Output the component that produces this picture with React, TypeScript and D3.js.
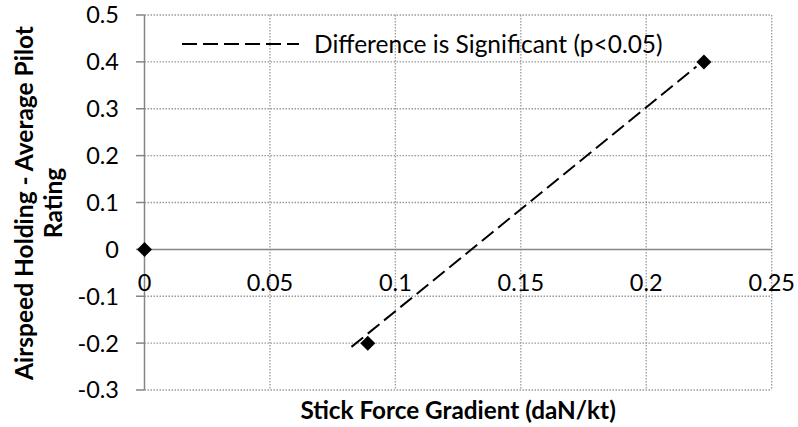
import React from "react";
import * as d3 from "d3";

// Observed points: stick force gradient (daN/kt) vs. rating difference
const gradientValues = [0, 0.089, 0.223];
const ratingValues = [0, -0.2, 0.4];

// Linear trend segment endpoints for the significant pair
const trendX = [0.0825, 0.22];
const trendY = [-0.208, 0.39];

const xTicks = [0, 0.05, 0.1, 0.15, 0.2, 0.25];
const yTicks = [0.5, 0.4, 0.3, 0.2, 0.1, 0, -0.1, -0.2, -0.3];

const legendLabel = "Difference is Significant (p<0.05)";
const xTitle = "Stick Force Gradient (daN/kt)";
const yTitleLines = ["Airspeed Holding - Average Pilot", "Rating"];

const W = 798;
const H = 427;
const FONT = "Lato, 'Open Sans', sans-serif";

export default function App() {
  const x = d3.scaleLinear().domain([0, 0.25]).range([144.5, 771.7]);
  const y = d3.scaleLinear().domain([-0.3, 0.5]).range([390, 15]);
  const axisColor = "#868686";
  const gridColor = "#9a9a9a";

  const diamond = (cx: number, cy: number, r: number) =>
    `M${cx},${cy - r}L${cx + r},${cy}L${cx},${cy + r}L${cx - r},${cy}Z`;

  const trendLine = d3
    .line<number>()
    .x((_, i) => x(trendX[i]))
    .y((d) => y(d));

  const fmt = (v: number) => (v === 0 ? "0" : String(v));

  return (
    <svg
      width={W}
      height={H}
      style={{ position: "absolute", left: 0, top: 0, background: "#fff" }}
      fontFamily={FONT}
    >
      {/* dotted gridlines */}
      {yTicks
        .filter((t) => t !== 0)
        .map((t) => (
          <line
            key={`gy${t}`}
            x1={x(0)}
            x2={x(0.25)}
            y1={y(t)}
            y2={y(t)}
            stroke={gridColor}
            strokeWidth={1.3}
            strokeDasharray="1.5,1.5"
          />
        ))}
      {xTicks
        .filter((t) => t !== 0)
        .map((t) => (
          <line
            key={`gx${t}`}
            x1={x(t)}
            x2={x(t)}
            y1={y(0.5)}
            y2={y(-0.3)}
            stroke={gridColor}
            strokeWidth={1.3}
            strokeDasharray="1.5,1.5"
          />
        ))}

      {/* axes */}
      <line x1={x(0)} x2={x(0)} y1={y(0.5)} y2={y(-0.3)} stroke={axisColor} strokeWidth={1.5} />
      <line x1={x(0)} x2={x(0.25)} y1={y(0)} y2={y(0)} stroke={axisColor} strokeWidth={1.5} />
      {yTicks.map((t) => (
        <line
          key={`ty${t}`}
          x1={x(0) - 8.5}
          x2={x(0)}
          y1={y(t)}
          y2={y(t)}
          stroke={axisColor}
          strokeWidth={1.5}
        />
      ))}

      {/* tick labels */}
      {yTicks.map((t) => (
        <text
          key={`ly${t}`}
          x={119}
          y={y(t)}
          dy="0.36em"
          textAnchor="end"
          fontSize={23.5}
          fill="#000"
        >
          {fmt(t)}
        </text>
      ))}
      {xTicks.map((t) => (
        <text
          key={`lx${t}`}
          x={x(t)}
          y={y(0) + 42}
          textAnchor="middle"
          fontSize={23.5}
          fill="#000"
        >
          {fmt(t)}
        </text>
      ))}

      {/* trend line */}
      <path
        d={trendLine(trendY) || ""}
        fill="none"
        stroke="#000"
        strokeWidth={2}
        strokeDasharray="15,6"
      />

      {/* data points */}
      {gradientValues.map((g, i) => (
        <path key={`p${i}`} d={diamond(x(g), y(ratingValues[i]), 7.5)} fill="#000" />
      ))}

      {/* legend */}
      <line x1={182} x2={299} y1={44} y2={44} stroke="#000" strokeWidth={2} strokeDasharray="15,6" />
      <text x={314} y={53} fontSize={24.5} fill="#000">
        {legendLabel}
      </text>

      {/* axis titles */}
      <text x={x(0.125)} y={419} textAnchor="middle" fontSize={24.3} fontWeight="bold" fill="#000">
        {xTitle}
      </text>
      <g transform={`translate(0, 203) rotate(-90)`}>
        <text x={0} y={33} textAnchor="middle" fontSize={24.5} fontWeight="bold" fill="#000">
          {yTitleLines[0]}
        </text>
        <text x={0} y={62} textAnchor="middle" fontSize={24.5} fontWeight="bold" fill="#000">
          {yTitleLines[1]}
        </text>
      </g>
    </svg>
  );
}
